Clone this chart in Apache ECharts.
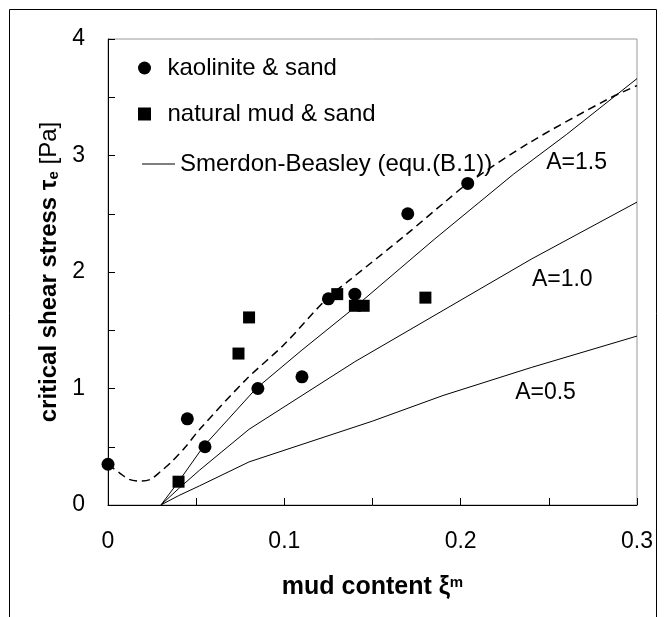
<!DOCTYPE html>
<html>
<head>
<meta charset="utf-8">
<script src="https://cdn.jsdelivr.net/npm/echarts@6/dist/echarts.min.js"></script>
<style>
  html, body { margin: 0; padding: 0; background: #fff; }
  #chart { width: 667px; height: 617px; }
</style>
</head>
<body>
<div id="chart"></div>
<script>
// Measured critical shear stress vs. mud content
const kaoliniteX = [0, 0.045, 0.055, 0.085, 0.11, 0.125, 0.14, 0.17, 0.204];
const kaoliniteY = [0.35, 0.74, 0.50, 1.00, 1.10, 1.77, 1.81, 2.50, 2.76];
const naturalX = [0.04, 0.074, 0.08, 0.13, 0.14, 0.145, 0.18];
const naturalY = [0.20, 1.30, 1.61, 1.81, 1.71, 1.71, 1.78];

// Smerdon-Beasley curves for three values of A
const a15X = [0.03, 0.04, 0.054, 0.084, 0.11, 0.137, 0.185, 0.23, 0.26, 0.3];
const a15Y = [0, 0.20, 0.50, 1.00, 1.33, 1.66, 2.28, 2.84, 3.18, 3.66];
const a10X = [0.03, 0.04, 0.052, 0.08, 0.11, 0.14, 0.19, 0.24, 0.3];
const a10Y = [0, 0.14, 0.30, 0.65, 0.94, 1.23, 1.67, 2.11, 2.60];
const a05X = [0.03, 0.04, 0.052, 0.08, 0.11, 0.15, 0.19, 0.24, 0.3];
const a05Y = [0, 0.08, 0.165, 0.37, 0.52, 0.72, 0.94, 1.18, 1.45];

// Dashed trend through the data
const trendX = [0, 0.007, 0.012, 0.018, 0.024, 0.03, 0.036, 0.044, 0.052, 0.0785, 0.1, 0.124, 0.137, 0.169, 0.191, 0.204, 0.239, 0.283, 0.3];
const trendY = [0.35, 0.27, 0.22, 0.205, 0.22, 0.29, 0.37, 0.50, 0.65, 1.08, 1.38, 1.77, 1.93, 2.32, 2.60, 2.76, 3.11, 3.48, 3.60];

// Axis ticks
const xTicks = ['0', '0.1', '0.2', '0.3'];
const yTicks = ['0', '1', '2', '3', '4'];
const curveNames = ['A=1.5', 'A=1.0', 'A=0.5'];

const FONT = "'Liberation Sans', Arial, sans-serif";
const zip = (xs, ys) => xs.map((x, i) => [x, ys[i]]);
const SB = 'Smerdon-Beasley (equ.(B.1))';
const SQUARE = 'path://M0,0H10V10H0Z';

function curve(xs, ys, label, at) {
  return {
    name: SB, type: 'line', data: zip(xs, ys), symbol: 'none', z: 2,
    lineStyle: { color: '#000', width: 1 }, itemStyle: { color: '#000' },
    markPoint: {
      silent: true, symbol: 'circle', symbolSize: 0,
      label: { show: true, position: 'right', distance: 0, formatter: label,
               fontFamily: FONT, fontSize: 23, color: '#000' },
      data: [{ coord: at }]
    }
  };
}

const legendText = { fontFamily: FONT, fontSize: 24, color: '#000' };

const chart = echarts.init(document.getElementById('chart'), null, { renderer: 'canvas' });
chart.setOption({
  animation: false,
  backgroundColor: '#fff',
  graphic: [{
    type: 'rect', silent: true, z: -10,
    shape: { x: 9.5, y: 9.5, width: 647, height: 640 },
    style: { fill: null, stroke: '#000', lineWidth: 1 }
  }],
  grid: { left: 108, top: 39, width: 529, height: 466, show: true, borderColor: '#999', borderWidth: 1 },
  legend: [{
    left: 133, top: 51, orient: 'vertical', itemWidth: 36, itemHeight: 13, itemGap: 22,
    selectedMode: false, symbolKeepAspect: true, textStyle: legendText,
    data: [
      { name: 'kaolinite & sand', icon: 'circle' },
      { name: 'natural mud & sand', icon: SQUARE }
    ]
  }, {
    left: 137, top: 147, orient: 'vertical', itemWidth: 33, itemHeight: 1,
    selectedMode: false, textStyle: legendText,
    data: [{ name: SB, icon: 'rect' }]
  }],
  xAxis: {
    type: 'value', min: 0, max: 0.3, interval: 0.05,
    splitLine: { show: false },
    axisLine: { lineStyle: { color: '#000', width: 1 } },
    axisTick: { inside: true, length: 7, lineStyle: { color: '#000' } },
    axisLabel: {
      margin: 25, fontFamily: FONT, fontSize: 23, color: '#000',
      formatter: v => { const k = Math.round(v * 20); return k % 2 === 0 ? xTicks[k / 2] : ''; }
    },
    name: '{b|mud content ξ}{sup|m}', nameLocation: 'middle', nameGap: 70,
    nameTextStyle: {
      fontFamily: FONT, color: '#000',
      rich: {
        b: { fontFamily: FONT, fontSize: 25, fontWeight: 'bold', color: '#000' },
        sup: { fontFamily: FONT, fontSize: 15, fontWeight: 'bold', color: '#000', verticalAlign: 'top' }
      }
    }
  },
  yAxis: {
    type: 'value', min: 0, max: 4, interval: 0.5,
    splitLine: { show: false },
    axisLine: { show: true, lineStyle: { color: '#000', width: 1 } },
    axisTick: { show: true, inside: true, length: 7, lineStyle: { color: '#000' } },
    axisLabel: {
      margin: 23, fontFamily: FONT, fontSize: 23, color: '#000',
      formatter: v => { const k = Math.round(v * 2); return k % 2 === 0 ? yTicks[k / 2] : ''; }
    },
    name: '{b|critical shear stress τ}{sub|e}{r| [Pa]}', nameLocation: 'middle', nameGap: 46,
    nameTextStyle: {
      fontFamily: FONT, color: '#000',
      rich: {
        b: { fontFamily: FONT, fontSize: 24, fontWeight: 'bold', color: '#000' },
        sub: { fontFamily: FONT, fontSize: 15, fontWeight: 'bold', color: '#000', verticalAlign: 'bottom' },
        r: { fontFamily: FONT, fontSize: 24, color: '#000' }
      }
    }
  },
  series: [
    curve(a15X, a15Y, curveNames[0], [0.2485, 2.94]),
    curve(a10X, a10Y, curveNames[1], [0.2404, 1.93]),
    curve(a05X, a05Y, curveNames[2], [0.2309, 0.964]),
    {
      name: 'trend', type: 'line', data: zip(trendX, trendY), symbol: 'none', smooth: 0.3, z: 2,
      lineStyle: { color: '#000', width: 1.5, type: [8, 5] }
    },
    {
      name: 'kaolinite & sand', type: 'scatter', data: zip(kaoliniteX, kaoliniteY),
      symbol: 'circle', symbolSize: 13, z: 3, itemStyle: { color: '#000', opacity: 1 }
    },
    {
      name: 'natural mud & sand', type: 'scatter', data: zip(naturalX, naturalY),
      symbol: 'rect', symbolSize: 12, z: 3, itemStyle: { color: '#000', opacity: 1 }
    }
  ]
});
</script>
</body>
</html>
